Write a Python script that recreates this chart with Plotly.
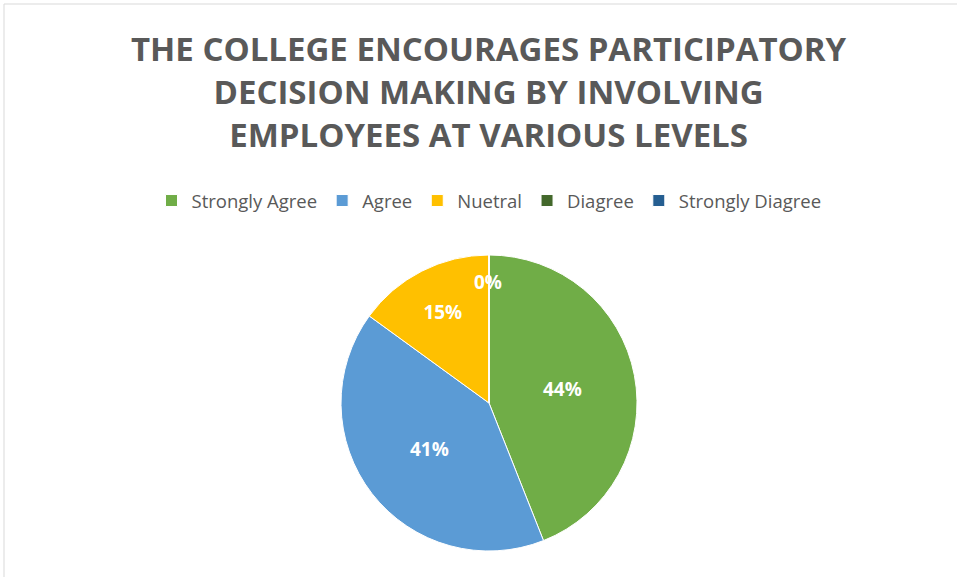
import plotly.graph_objects as go

categories = ["Strongly Agree", "Agree", "Nuetral", "Diagree", "Strongly Diagree"]
values = [44, 41, 15, 0, 0]
colors = ["#70AD47", "#5B9BD5", "#FFC000", "#43682B", "#255E91"]
title_text = "THE COLLEGE ENCOURAGES PARTICIPATORY<br>DECISION MAKING BY INVOLVING<br>EMPLOYEES AT VARIOUS LEVELS"

W, H = 958, 577
total = sum(values)

fig = go.Figure(go.Pie(
    labels=categories,
    values=values,
    sort=False,
    direction="clockwise",
    rotation=0,
    marker=dict(colors=colors, line=dict(color="white", width=1)),
    texttemplate="%{percent:.0%}",
    textposition="inside",
    insidetextorientation="horizontal",
    textfont=dict(family="Open Sans", size=19, color="white", weight="bold"),
    domain=dict(x=[0.0209, 1.0], y=[26 / H, 322 / H]),
    hoverinfo="label+percent",
))

# label for the zero-valued slices (plotly does not draw text for empty slices)
zero_label = f"{100 * values[3] / total:.0f}%"

fig.update_layout(
    width=W, height=H,
    margin=dict(l=0, r=0, t=0, b=0),
    paper_bgcolor="white",
    annotations=[
        dict(text=title_text, xref="paper", yref="paper",
             x=489 / W, y=1 - 92 / H, xanchor="center", yanchor="middle",
             showarrow=False,
             font=dict(family="Open Sans", size=33, color="#595959", weight="bold")),
        dict(text=zero_label, xref="paper", yref="paper",
             x=488 / W, y=1 - 282 / H, xanchor="center", yanchor="middle",
             showarrow=False,
             font=dict(family="Open Sans", size=19, color="white", weight="bold")),
    ],
    legend=dict(
        orientation="h",
        x=489 / W, xanchor="center",
        y=1 - 201 / H, yanchor="middle",
        font=dict(family="Open Sans", size=18.5, color="#595959"),
        itemwidth=30,
        traceorder="normal",
    ),
    shapes=[
        dict(type="line", xref="paper", yref="paper", x0=4 / W, x1=957 / W,
             y0=1 - 4 / H, y1=1 - 4 / H, line=dict(color="#D9D9D9", width=1)),
        dict(type="line", xref="paper", yref="paper", x0=4 / W, x1=4 / W,
             y0=0, y1=1 - 4 / H, line=dict(color="#D9D9D9", width=1)),
    ],
)

fig.write_html("out.html", config={"displayModeBar": False},
               post_script="document.body.style.margin='0';")
